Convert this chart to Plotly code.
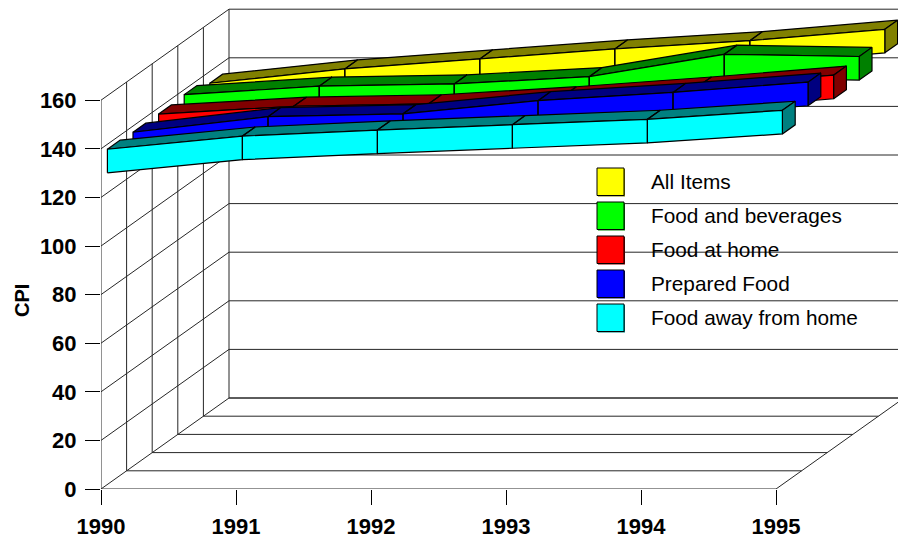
import plotly.graph_objects as go

# ---------- data ----------
years = [1990, 1991, 1992, 1993, 1994, 1995]
cpi_ticks = [0, 20, 40, 60, 80, 100, 120, 140, 160]
all_items = [130.3, 136.2, 140.3, 144.4, 147.8, 152.5]
food_bev = [133.1, 136.6, 137.5, 140.5, 149.7, 148.8]
food_home = [132.6, 135.8, 136.8, 140.1, 144.1, 148.6]
prepared = [132.6, 139.0, 140.2, 145.6, 149.0, 153.2]
food_away = [133.1, 138.5, 141.0, 143.2, 145.4, 149.1]

# back-to-front order
names = ["All Items", "Food and beverages", "Food at home", "Prepared Food", "Food away from home"]
values = [all_items, food_bev, food_home, prepared, food_away]
face_colors = ["#FFFF00", "#00FF00", "#FF0000", "#0000FF", "#00FFFF"]
side_colors = ["#808000", "#008000", "#800000", "#000080", "#008080"]

# ---------- projection / layout constants ----------
W, H = 898, 540
ML, MB = 101, 51
PX_YEAR = 135.0
PX_UNIT = 2.43
DEPTH_X = 128 / PX_YEAR      # depth axis skew in year units
DEPTH_Y = 91 / PX_UNIT       # depth axis skew in CPI units
SLICES = 5
THICK = 4.85                 # half ribbon height in CPI units
FONT = "Liberation Sans"
GRID = "#262626"


def proj(year, val, depth):
    return year + depth * DEPTH_X, val + depth * DEPTH_Y


def polys(list_of_corners):
    xs, ys = [], []
    for corners in list_of_corners:
        for (yr, v, d) in corners + [corners[0]]:
            x, y = proj(yr, v, d)
            xs.append(x)
            ys.append(y)
        xs.append(None)
        ys.append(None)
    return xs, ys


fig = go.Figure()


def add_line(p0, p1):
    x0, y0_ = proj(*p0)
    x1, y1_ = proj(*p1)
    fig.add_trace(go.Scatter(x=[x0, x1], y=[y0_, y1_], mode="lines",
                             line=dict(color=GRID, width=1), hoverinfo="skip", showlegend=False))


y0, yN = years[0], years[-1]
vmax = cpi_ticks[-1]
# back wall + left wall value lines
for v in cpi_ticks:
    add_line((y0, v, 0), (y0, v, 1))
    add_line((y0, v, 1), (yN + 1, v, 1))
# left wall verticals and floor lines
for k in range(0, SLICES + 1):
    d = k / SLICES
    add_line((y0, 0, d), (y0, vmax, d))
    add_line((y0, 0, d), (yN, 0, d))
# right floor edge
add_line((yN, 0, 0), (yN, 0, 1))

# ribbons
for i, (name, vals, fc, sc) in enumerate(zip(names, values, face_colors, side_colors)):
    i_slice = SLICES - 1 - i
    d0 = (i_slice + 0.25) / SLICES
    d1 = (i_slice + 0.75) / SLICES
    tops, fronts = [], []
    for j in range(len(years) - 1):
        a, b = years[j], years[j + 1]
        va, vb = vals[j], vals[j + 1]
        tops.append([(a, va + THICK, d0), (b, vb + THICK, d0), (b, vb + THICK, d1), (a, va + THICK, d1)])
        fronts.append([(a, va - THICK, d0), (b, vb - THICK, d0), (b, vb + THICK, d0), (a, va + THICK, d0)])
    end = [[(yN, vals[-1] - THICK, d0), (yN, vals[-1] - THICK, d1),
            (yN, vals[-1] + THICK, d1), (yN, vals[-1] + THICK, d0)]]
    for group, col in ((tops, sc), (end, sc), (fronts, fc)):
        xs, ys = polys(group)
        fig.add_trace(go.Scatter(x=xs, y=ys, mode="lines", fill="toself", fillcolor=col,
                                 line=dict(color="#000000", width=1.2), name=name,
                                 hoverinfo="skip", showlegend=False))

# legend (drawn in pixel positions of the page)
LEG_X0, LEG_X1, LEG_Y0, LEG_H, LEG_STEP, LEG_TX = 597, 624, 168, 27.5, 34, 649
shapes, annots = [], []


def paper(px, py):
    return (px - ML) / (W - ML), (H - MB - py) / (H - MB)


for i, name in enumerate(names):
    top = LEG_Y0 + i * LEG_STEP
    for off, col, lw in ((1, side_colors[i], 0), (0, face_colors[i], 1)):
        xa, ya = paper(LEG_X0 + off, top + LEG_H + off)
        xb, yb = paper(LEG_X1 + off, top + off)
        shapes.append(dict(type="rect", xref="paper", yref="paper", x0=xa, x1=xb, y0=ya, y1=yb,
                           fillcolor=col, line=dict(color="#000000", width=lw), layer="above"))
    tx, ty = paper(LEG_TX, top + LEG_H / 2)
    annots.append(dict(xref="paper", yref="paper", x=tx, y=ty, text=name, showarrow=False,
                       xanchor="left", yanchor="middle",
                       font=dict(family=FONT, size=20.8, color="#000000")))

tx, ty = paper(22, 301)
annots.append(dict(xref="paper", yref="paper", x=tx, y=ty, text="CPI", textangle=-90, showarrow=False,
                   xanchor="center", yanchor="middle",
                   font=dict(family=FONT, size=20, color="#000000", weight=700)))

tick_font = dict(family=FONT, size=22, color="#000000", weight=700)
fig.update_layout(
    width=W, height=H, autosize=False, showlegend=False,
    margin=dict(l=ML, r=0, t=0, b=MB, pad=0),
    paper_bgcolor="#FFFFFF", plot_bgcolor="#FFFFFF",
    shapes=shapes, annotations=annots,
    xaxis=dict(range=[y0, y0 + (W - ML) / PX_YEAR], tickmode="array", tickvals=years,
               ticktext=[str(y) for y in years], ticks="outside", ticklen=15, tickwidth=1,
               tickcolor="#000000", tickfont=tick_font, ticklabelstandoff=3,
               showgrid=False, zeroline=False, showline=False, automargin=False),
    yaxis=dict(range=[0, (H - MB) / PX_UNIT], tickmode="array", tickvals=cpi_ticks,
               ticks="outside", ticklen=15, tickwidth=1, tickcolor="#000000", tickfont=tick_font,
               ticklabelstandoff=4, showgrid=False, zeroline=False, showline=False, automargin=False),
)

fig.write_html("out.html", config=dict(displayModeBar=False),
               post_script="document.body.style.margin='0';")
